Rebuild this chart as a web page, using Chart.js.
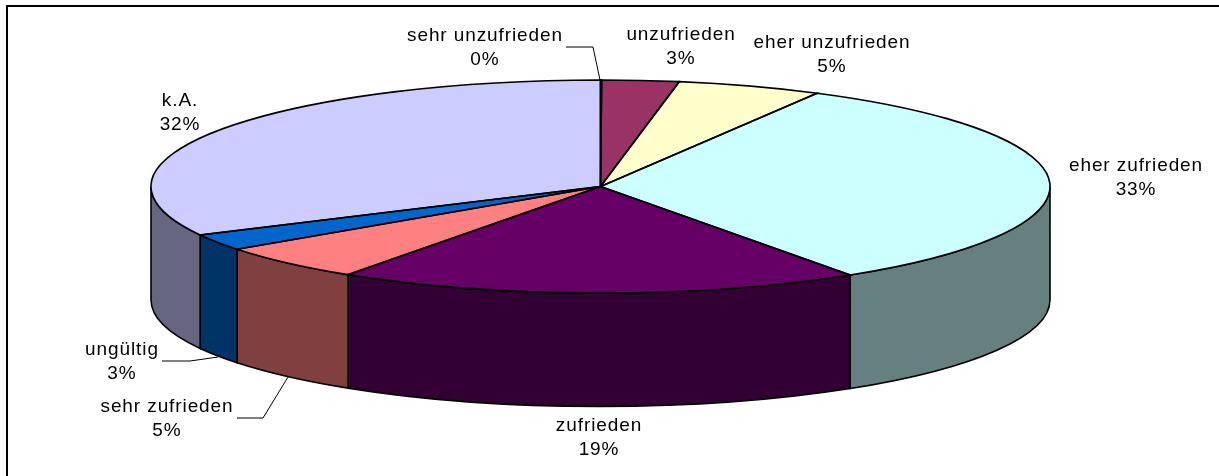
<!DOCTYPE html>
<html>
<head>
<meta charset="utf-8">
<style>
  html, body { margin: 0; padding: 0; background: #fff; }
  #wrap { position: relative; width: 1219px; height: 476px; }
</style>
<script src="https://cdn.jsdelivr.net/npm/chart.js@4/dist/chart.umd.min.js"></script>
</head>
<body>
<div id="wrap"><canvas id="pieChart" width="1219" height="476"></canvas></div>
<script>
// Daten
const categories = ["sehr unzufrieden", "unzufrieden", "eher unzufrieden", "eher zufrieden", "zufrieden", "sehr zufrieden", "ungültig", "k.A."];
const seriesValues = [0.04, 2.76, 5.2, 32.6, 18.85, 5.49, 2.5, 32.49];
const sliceColors = ["#9999ff", "#993366", "#ffffcc", "#ccffff", "#660066", "#ff8080", "#0066cc", "#ccccff"];
const wallColors = ["#4d4d80", "#4d1a33", "#808066", "#668080", "#330033", "#804040", "#003366", "#666680"];

// Layout: Ellipse der Deckfläche und Tiefe
const CX = 600.5, CY = 186.5, RX = 449.5, RY = 106.5, DEPTH = 113.5;
// Mitte der Beschriftung (erste Zeile)
const labelPos = [[485, 36], [681, 35], [832, 43], [1136, 166], [599, 426], [167, 407], [122, 350], [180, 101]];
// Führungslinien
const leaders = [
  [[566, 47], [593, 47], [600, 80]],
  [[162, 361], [190, 361], [218, 357]],
  [[237, 418], [263, 418], [288, 377]],
];

const frame = {
  id: "frame",
  beforeDraw(chart) {
    const c = chart.ctx;
    c.save();
    c.strokeStyle = "#000";
    c.lineWidth = 2;
    c.beginPath();
    c.moveTo(7, 476);
    c.lineTo(7, 6);
    c.lineTo(1219, 6);
    c.stroke();
    c.restore();
  },
};

const pie3d = {
  id: "pie3d",
  beforeDatasetsDraw(chart) {
    const c = chart.ctx;
    const arcs = chart.getDatasetMeta(0).data;
    // Seitenwände nur für die vordere Hälfte (Winkel 0..PI)
    arcs.forEach((arc, i) => {
      const from = Math.max(arc.startAngle, 0);
      const to = Math.min(arc.endAngle, Math.PI);
      if (to <= from) return;
      c.save();
      c.beginPath();
      c.ellipse(CX, CY, RX, RY, 0, from, to);
      c.ellipse(CX, CY + DEPTH, RX, RY, 0, to, from, true);
      c.closePath();
      c.fillStyle = wallColors[i];
      c.fill();
      c.strokeStyle = "#000";
      c.lineWidth = 1.6;
      c.stroke();
      c.restore();
    });
    // Deckfläche flach drücken
    c.save();
    c.translate(CX, CY);
    c.scale(1, RY / RX);
    c.translate(-arcs[0].x, -arcs[0].y);
  },
  afterDatasetsDraw(chart) {
    const c = chart.ctx;
    c.restore();
    const arcs = chart.getDatasetMeta(0).data;
    c.save();
    c.strokeStyle = "#000";
    c.lineWidth = 1.6;
    arcs.forEach((arc) => {
      c.beginPath();
      c.moveTo(CX, CY);
      c.ellipse(CX, CY, RX, RY, 0, arc.startAngle, arc.endAngle);
      c.closePath();
      c.stroke();
    });
    c.restore();

    // Führungslinien und Beschriftung
    c.save();
    c.strokeStyle = "#000";
    c.lineWidth = 1;
    leaders.forEach((pts) => {
      c.beginPath();
      pts.forEach((p, k) => (k ? c.lineTo(p[0], p[1]) : c.moveTo(p[0], p[1])));
      c.stroke();
    });
    c.fillStyle = "#000";
    c.font = '19px "Liberation Sans"';
    c.letterSpacing = "0.9px";
    c.textAlign = "center";
    c.textBaseline = "middle";
    categories.forEach((name, i) => {
      const [x, y] = labelPos[i];
      c.fillText(name, x, y);
      c.fillText(Math.round(seriesValues[i]) + "%", x, y + 24);
    });
    c.restore();
  },
};

new Chart(document.getElementById("pieChart"), {
  type: "pie",
  data: {
    labels: categories,
    datasets: [{
      data: seriesValues,
      backgroundColor: sliceColors,
      borderWidth: 0,
      radius: RX,
      clip: false,
    }],
  },
  options: {
    responsive: false,
    animation: false,
    plugins: { legend: { display: false }, tooltip: { enabled: false } },
  },
  plugins: [frame, pie3d],
});
</script>
</body>
</html>
